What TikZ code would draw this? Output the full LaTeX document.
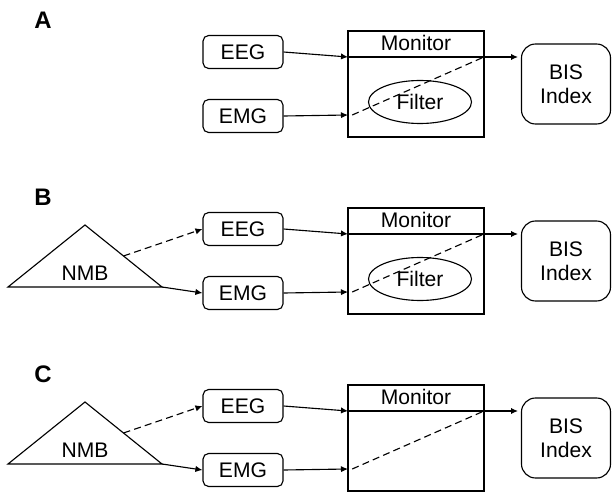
\documentclass[tikz,border=0pt]{standalone}
\usepackage{fontspec}
\setsansfont{Liberation Sans}
\usetikzlibrary{shapes.geometric,arrows.meta,positioning,calc}

\tikzset{
  sigbox/.style={draw, line width=0.8pt, rounded corners=4pt, minimum width=2cm, minimum height=0.825cm},
  monbox/.style={draw, line width=0.8pt, minimum width=3.4cm, minimum height=2.65cm},
  bisbox/.style={draw, line width=0.8pt, rounded corners=10pt, minimum width=2.225cm, minimum height=2cm, align=center},
  filt/.style={draw, ellipse, line width=0.8pt, minimum width=2.575cm, minimum height=1.075cm},
  wire/.style={line width=0.8pt, -{Latex[length=5pt,width=4.5pt]}},
  dashwire/.style={line width=0.8pt, dash pattern=on 5pt off 3pt},
  panel/.style={font=\sffamily\bfseries\fontsize{17}{19}\selectfont},
}

\begin{document}
\begin{tikzpicture}[x=0.025cm, y=-0.025cm, font=\sffamily\fontsize{15}{17}\selectfont]
\useasboundingbox (0,0) rectangle (612,492);

% the three panels share the same monitor chain
\foreach \p/\dy in {A/0, B/177, C/354} {
  \begin{scope}[shift={(0,\dy)}]
    \node[panel] (lab\p) at (43,20) {\p};
    \node[sigbox] (eeg\p) at (243,52) {EEG};
    \node[sigbox] (emg\p) at (243,116) {EMG};
    \node[monbox, label={[anchor=north, inner sep=3.5pt]north:Monitor}] (mon\p) at (416,84) {};
    \node[bisbox] (bis\p) at (566,84) {BIS\\Index};
    \coordinate (top\p) at (348,57);
    \coordinate (low\p) at (348,115);
    \coordinate (out\p) at (484,57);
    \draw[wire] (eeg\p.east) -- (top\p);
    \draw[wire] (emg\p.east) -- (low\p);
    \draw[wire, line width=1.4pt, shorten >=2pt] (top\p) -- (bis\p.west |- top\p);
    \draw[dashwire] ([xshift=3pt]low\p) -- (out\p);
  \end{scope}
}

% filter inside the monitor
\foreach \p/\dy in {A/0, B/177} {
  \begin{scope}[shift={(0,\dy)}]
    \node[filt] (filt\p) at (420,102) {Filter};
  \end{scope}
}

% neuromuscular block
\foreach \p/\dy in {B/177, C/354} {
  \begin{scope}[shift={(0,\dy)}]
    \coordinate (nmbT\p) at (85,48);
    \coordinate (nmbL\p) at (8,110);
    \coordinate (nmbR\p) at (162,110);
    \draw[line width=0.8pt] (nmbL\p) -- (nmbT\p) -- (nmbR\p) -- cycle;
    \node (nmb\p) at (85,96) {NMB};
    \draw[wire, dashwire] ($(nmbT\p)!0.5!(nmbR\p)$) -- (eeg\p.west);
    \draw[wire] (nmbR\p) -- (emg\p.west);
  \end{scope}
}
\end{tikzpicture}
\end{document}
